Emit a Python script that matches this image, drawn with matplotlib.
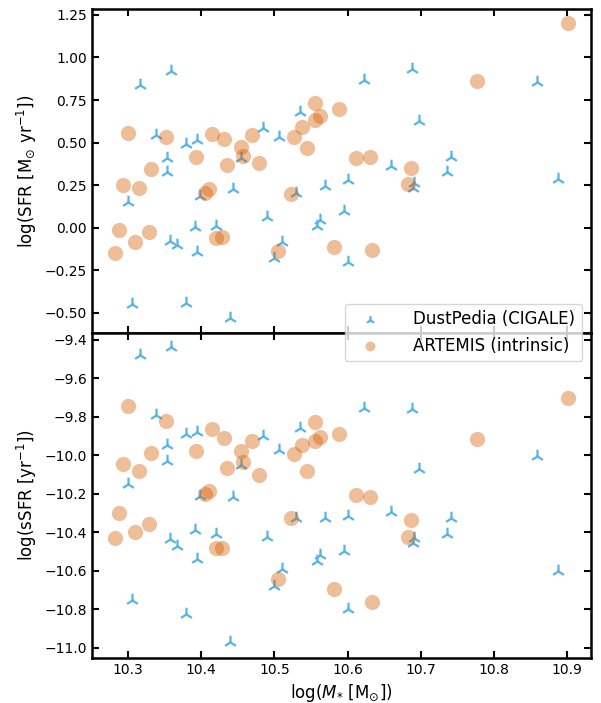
import numpy as np
import matplotlib
matplotlib.use("Agg")
import matplotlib.pyplot as plt

# DustPedia (CIGALE): log stellar mass and log SFR
dp_mstar = np.array([10.316, 10.359, 10.338, 10.354, 10.354, 10.379, 10.395, 10.455,
                     10.484, 10.507, 10.535, 10.622, 10.688, 10.859, 10.697, 10.741,
                     10.659, 10.736, 10.887, 10.600, 10.300, 10.399, 10.444, 10.530,
                     10.569, 10.490, 10.391, 10.420, 10.358, 10.367, 10.394, 10.511,
                     10.499, 10.562, 10.558, 10.595, 10.601, 10.305, 10.379, 10.440,
                     10.690, 10.689])
dp_sfr = np.array([0.838, 0.922, 0.546, 0.407, 0.325, 0.490, 0.515, 0.407,
                   0.587, 0.534, 0.678, 0.867, 0.930, 0.857, 0.627, 0.417,
                   0.364, 0.325, 0.284, 0.283, 0.153, 0.186, 0.227, 0.202,
                   0.245, 0.065, 0.002, 0.012, -0.078, -0.104, -0.145, -0.082,
                   -0.180, 0.045, 0.010, 0.100, -0.200, -0.448, -0.444, -0.528,
                   0.260, 0.231])

# ARTEMIS (intrinsic)
ar_mstar = np.array([10.300, 10.352, 10.393, 10.415, 10.431, 10.455, 10.457, 10.470,
                     10.436, 10.479, 10.332, 10.527, 10.538, 10.545, 10.556, 10.556,
                     10.562, 10.588, 10.901, 10.776, 10.612, 10.630, 10.686, 10.294,
                     10.315, 10.405, 10.411, 10.523, 10.288, 10.310, 10.329, 10.282,
                     10.421, 10.429, 10.505, 10.581, 10.682, 10.633])
ar_sfr = np.array([0.558, 0.533, 0.417, 0.550, 0.521, 0.476, 0.423, 0.543,
                   0.368, 0.378, 0.345, 0.534, 0.593, 0.466, 0.732, 0.632,
                   0.658, 0.697, 1.200, 0.861, 0.407, 0.413, 0.352, 0.249,
                   0.235, 0.206, 0.227, 0.196, -0.014, -0.086, -0.027, -0.149,
                   -0.062, -0.055, -0.137, -0.115, 0.257, -0.131])

# specific SFR in log: log(SFR) - log(M*)
dp_ssfr = dp_sfr - dp_mstar
ar_ssfr = ar_sfr - ar_mstar

blue = '#56B4E9'
orange = '#D55E00'

fig = plt.figure(figsize=(6.01, 7.03), dpi=100)
ax1 = fig.add_axes([0.153, 0.526, 0.830, 0.461])
ax2 = fig.add_axes([0.153, 0.0644, 0.830, 0.4616], sharex=ax1)

for ax, ydp, yar in [(ax1, dp_sfr, ar_sfr), (ax2, dp_ssfr, ar_ssfr)]:
    ax.scatter(dp_mstar, ydp, marker='2', s=95, linewidths=1.6, color=blue,
               label='DustPedia (CIGALE)')
    ax.scatter(ar_mstar, yar, marker='o', s=120, color=orange, alpha=0.4,
               linewidths=0, label='ARTEMIS (intrinsic)')
    ax.tick_params(direction='in', top=True, right=True, length=5, width=1.5,
                   labelsize=10)
    for sp in ax.spines.values():
        sp.set_linewidth(1.8)

ax1.tick_params(labelbottom=False)
ax1.set_xlim(10.251, 10.932)
ax1.set_ylim(-0.62, 1.284)
ax2.set_ylim(-11.052, -9.365)
ax1.set_yticks([-0.5, -0.25, 0.0, 0.25, 0.5, 0.75, 1.0, 1.25])
ax2.set_yticks([-11.0, -10.8, -10.6, -10.4, -10.2, -10.0, -9.8, -9.6, -9.4])
ax2.set_xticks([10.3, 10.4, 10.5, 10.6, 10.7, 10.8, 10.9])

ax1.set_ylabel(r'log(SFR [M$_{\odot}$ yr$^{-1}$])', fontsize=12)
ax2.set_ylabel(r'log(sSFR [yr$^{-1}$])', fontsize=12)
ax2.set_xlabel(r'log($M_{*}$ [M$_{\odot}$])', fontsize=12)

h, l = ax1.get_legend_handles_labels()
fig.legend(h, l, loc='center right', bbox_to_anchor=(582 / 601, 1 - 332.5 / 703),
           borderaxespad=0, fontsize=12, markerscale=0.65, handletextpad=1.5,
           handlelength=2.2)

fig.savefig('out.png', dpi=100)
